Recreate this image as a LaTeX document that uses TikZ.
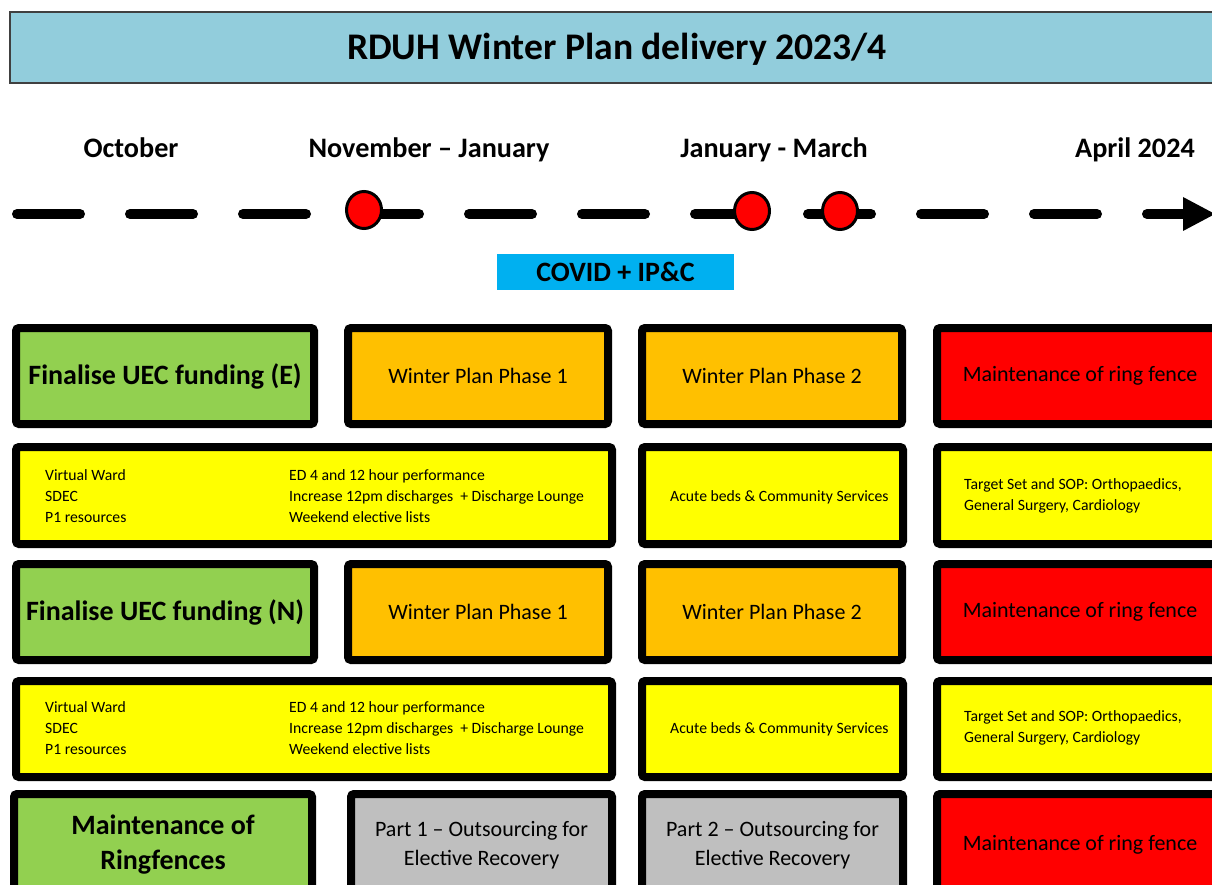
\documentclass[tikz,border=0pt]{standalone}
\usepackage{fontspec}
\setmainfont{Carlito}
\definecolor{titlebg}{HTML}{92CDDC}
\definecolor{covid}{HTML}{00B0F0}
\definecolor{grn}{HTML}{92D050}
\definecolor{amber}{HTML}{FFC000}
\definecolor{rd}{HTML}{FF0000}
\definecolor{yel}{HTML}{FFFF00}
\definecolor{gry}{HTML}{BFBFBF}
% box with outer edges x1,y1,x2,y2 (border of 8 drawn inside them)
\newcommand\planbox[8]{%
  \node[box,fill=#6,#7,minimum width={#4-#2-8},minimum height={#5-#3-8}]
    (#1) at ({(#2+#4)/2},{(#3+#5)/2}) {#8};}
\newcommand\fsz[2]{\fontsize{#1}{#2}\selectfont}
\begin{document}
\begin{tikzpicture}[x=1pt,y=-1pt,
  box/.style={draw=black,line width=8pt,rounded corners=3pt,inner sep=0pt,
    text=black,align=center},
  big/.style={font=\fsz{28}{35}\bfseries},
  mid/.style={font=\fsz{22}{29}},
  none/.style={},
  small/.style={font=\fsz{15.7}{20.8},align=left,anchor=west,inner sep=0pt},
  month/.style={font=\fsz{28.2}{34}\bfseries,inner sep=0pt,anchor=base},
  tl/.style={line width=10pt,line cap=round,black},
  ms/.style={draw=black,fill=red,line width=3pt}]
\useasboundingbox (0,0) rectangle (1212,885);
\clip (0,0) rectangle (1212,885);

% title bar
\node[draw=black!75,line width=1.2pt,fill=titlebg,minimum width=1215,minimum height=71,
  inner sep=0pt] (title) at (617.5,47.5) {};
\node[font=\fsz{37.6}{44}\bfseries,inner sep=0pt,anchor=base] (titletext) at (617,60)
  {RDUH Winter Plan delivery 2023/4};

% period labels
\node[month] (oct) at (131,158) {October};
\node[month] (novjan) at (429,158) {November – January};
\node[month] (janmar) at (774,158) {January - March};
\node[month] (apr) at (1135,158) {April 2024};

% dashed timeline with arrow
\foreach \a in {12,125,238,351,464,577,690,803,916,1029}
  \draw[tl] (\a+5,214) -- (\a+68,214);
\draw[tl] (1147,214) -- (1192,214);
\fill[black] (1183,197) -- (1215,214) -- (1183,231) -- cycle;

% milestones
\draw[ms] (364,210) ellipse [x radius=17.5, y radius=18.5];
\draw[ms] (752,211) ellipse [x radius=17.5, y radius=18.5];
\draw[ms] (840,211) ellipse [x radius=17.5, y radius=18.5];

% COVID banner
\node[fill=covid,minimum width=237,minimum height=36,inner sep=0pt,
  font=\fsz{28}{32}\bfseries] (covidbox) at (615.5,272) {COVID + IP\&C};

% row 1
\planbox{fundE}{12}{324}{318}{428}{grn}{big}{Finalise UEC funding (E)}
\planbox{phaseOneA}{344}{324}{612}{428}{amber}{mid}{Winter Plan Phase 1}
\planbox{phaseTwoA}{638}{324}{906}{428}{amber}{mid}{Winter Plan Phase 2}
\planbox{fenceA}{933}{324}{1227}{428}{rd}{mid}{Maintenance of ring fence}

% row 2
\planbox{actA}{12}{443}{616}{548}{yel}{none}{}
\node[small] (actAone) at (45,496) {Virtual Ward\\SDEC\\P1 resources};
\node[small] (actAtwo) at (289,496) {ED 4 and 12 hour performance\\Increase 12pm discharges\ \ + Discharge Lounge\\Weekend elective lists};
\planbox{bedsA}{638}{443}{907}{548}{yel}{none}{}
\node[small] (bedsAtext) at (670,497) {Acute beds \& Community Services};
\planbox{targetA}{933}{443}{1227}{548}{yel}{none}{}
\node[small] (targetAtext) at (964,496) {Target Set and SOP: Orthopaedics,\\General Surgery, Cardiology};

% row 3
\planbox{fundN}{12}{560}{318}{664}{grn}{big}{Finalise UEC funding (N)}
\planbox{phaseOneN}{344}{560}{612}{664}{amber}{mid}{Winter Plan Phase 1}
\planbox{phaseTwoN}{638}{560}{906}{664}{amber}{mid}{Winter Plan Phase 2}
\planbox{fenceN}{933}{560}{1227}{664}{rd}{mid}{Maintenance of ring fence}

% row 4
\planbox{actN}{12}{677}{616}{781}{yel}{none}{}
\node[small] (actNone) at (45,728) {Virtual Ward\\SDEC\\P1 resources};
\node[small] (actNtwo) at (289,728) {ED 4 and 12 hour performance\\Increase 12pm discharges\ \ + Discharge Lounge\\Weekend elective lists};
\planbox{bedsN}{638}{677}{907}{781}{yel}{none}{}
\node[small] (bedsNtext) at (670,729) {Acute beds \& Community Services};
\planbox{targetN}{933}{677}{1227}{781}{yel}{none}{}
\node[small] (targetNtext) at (964,728) {Target Set and SOP: Orthopaedics,\\General Surgery, Cardiology};

% row 5 (runs past the lower edge)
\planbox{ringfences}{10}{790}{316}{900}{grn}{big}{Maintenance of\\Ringfences}
\planbox{partOne}{347}{790}{616}{900}{gry}{mid}{Part 1 – Outsourcing for\\Elective Recovery}
\planbox{partTwo}{638}{790}{907}{900}{gry}{mid}{Part 2 – Outsourcing for\\Elective Recovery}
\planbox{fenceC}{933}{790}{1227}{900}{rd}{mid}{Maintenance of ring fence}
\end{tikzpicture}
\end{document}
